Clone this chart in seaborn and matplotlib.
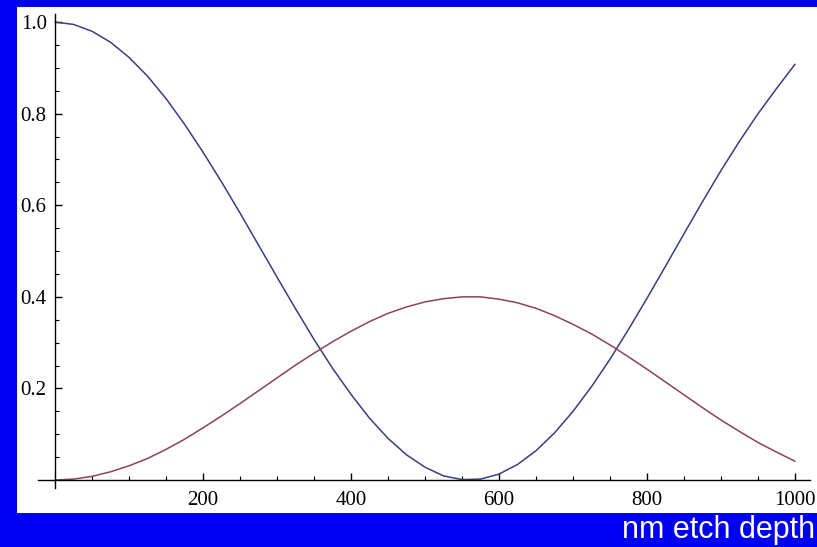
import numpy as np
import pandas as pd
import matplotlib
matplotlib.use("Agg")
import matplotlib.pyplot as plt
from matplotlib.ticker import FixedLocator
import seaborn as sns

# =========================
# 1. DATA
# =========================
etch_depth = [0, 25, 50, 75, 100, 125, 150, 175, 200, 225,
              250, 275, 300, 325, 350, 375, 400, 425, 450, 475,
              500, 525, 550, 575, 600, 625, 650, 675, 700, 725,
              750, 775, 800, 825, 850, 875, 900, 925, 950, 975, 1000]

blue_curve = [1.000, 0.995, 0.980, 0.956, 0.923, 0.882, 0.833, 0.777, 0.716, 0.651,
              0.583, 0.513, 0.443, 0.374, 0.307, 0.244, 0.187, 0.135, 0.091, 0.055,
              0.028, 0.009, 0.001, 0.002, 0.013, 0.034, 0.064, 0.103, 0.150, 0.204,
              0.264, 0.329, 0.397, 0.467, 0.538, 0.608, 0.676, 0.740, 0.800, 0.855, 0.908]

red_curve = [0.000, 0.002, 0.008, 0.018, 0.031, 0.047, 0.067, 0.089, 0.114, 0.140,
             0.167, 0.195, 0.223, 0.251, 0.277, 0.302, 0.325, 0.346, 0.364, 0.378,
             0.389, 0.396, 0.400, 0.400, 0.395, 0.387, 0.375, 0.359, 0.340, 0.319,
             0.295, 0.269, 0.242, 0.214, 0.186, 0.158, 0.131, 0.106, 0.082, 0.061, 0.041]

x_major_ticks = [200, 400, 600, 800, 1000]
x_minor_ticks = [50, 100, 150, 250, 300, 350, 450, 500, 550, 650, 700, 750, 850, 900, 950]
y_major_ticks = [0.2, 0.4, 0.6, 0.8, 1.0]
y_minor_ticks = [0.05, 0.1, 0.15, 0.25, 0.3, 0.35, 0.45, 0.5, 0.55, 0.65, 0.7, 0.75,
                 0.85, 0.9, 0.95]
x_label = "nm etch depth"

df = pd.DataFrame({
    "depth": etch_depth * 2,
    "value": blue_curve + red_curve,
    "curve": ["blue"] * len(etch_depth) + ["red"] * len(etch_depth),
})

# =========================
# 2. FIGURE
# =========================
sns.set_style("white")
bg_blue = "#0000f2"
fig = plt.figure(figsize=(8.17, 5.47), dpi=100, facecolor=bg_blue)
ax = fig.add_axes([17 / 817, 34 / 547, 800 / 817, 506 / 547], facecolor="white")

sns.lineplot(
    data=df, x="depth", y="value", hue="curve",
    palette={"blue": "#3c3c82", "red": "#8c4455"},
    linewidth=1.1, legend=False, ax=ax
)

ax.set_xlim(-51.4, 1029.7)
ax.set_ylim(-0.072, 1.033)
ax.set_xlabel("")
ax.set_ylabel("")

# mathematica style axes crossing at the origin
for side in ["top", "right"]:
    ax.spines[side].set_visible(False)
for side in ["left", "bottom"]:
    ax.spines[side].set_position(("data", 0))
    ax.spines[side].set_color("black")
    ax.spines[side].set_linewidth(1.0)
ax.spines["bottom"].set_bounds(-23, 1020)
ax.spines["left"].set_bounds(-0.017, 1.017)

ax.xaxis.set_major_locator(FixedLocator(x_major_ticks))
ax.xaxis.set_minor_locator(FixedLocator(x_minor_ticks))
ax.yaxis.set_major_locator(FixedLocator(y_major_ticks))
ax.yaxis.set_minor_locator(FixedLocator(y_minor_ticks))
ax.set_xticklabels([str(t) for t in x_major_ticks])
ax.set_yticklabels([f"{t:.1f}" for t in y_major_ticks])

ax.tick_params(which="major", direction="in", length=5, width=1, color="black",
               bottom=True, left=True, labelsize=15)
ax.tick_params(which="minor", direction="in", length=3, width=0.8, color="black",
               bottom=True, left=True)
ax.tick_params(axis="x", which="major", pad=8)
ax.tick_params(axis="y", which="major", pad=6)
for lab in ax.get_xticklabels() + ax.get_yticklabels():
    lab.set_family("Liberation Serif")
    lab.set_color("black")

fig.text(815 / 817, 9 / 547, x_label, color="white", fontsize=22,
         family="Liberation Sans", ha="right", va="baseline")

fig.savefig("out.png", dpi=100, facecolor=bg_blue)
